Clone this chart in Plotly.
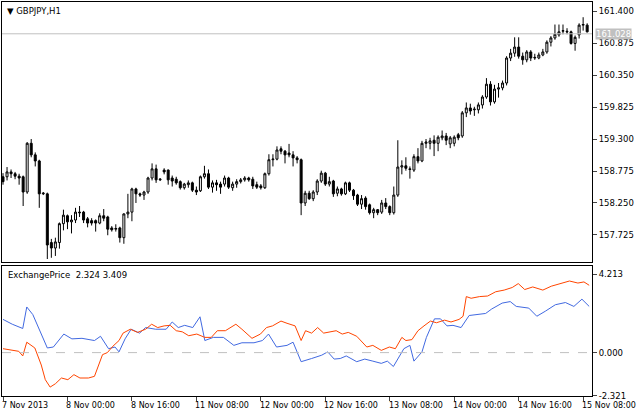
import plotly.graph_objects as go

opens = [158.68,158.68,158.76,158.73,158.69,158.68,158.43,159.23,159.04,158.94,158.40,158.40,157.60,157.51,157.60,157.91,158.04,157.94,157.97,158.10,
158.10,157.99,157.96,157.96,157.92,158.04,158.02,157.84,157.82,157.84,157.68,158.07,158.10,158.48,158.40,158.38,158.43,158.66,158.81,158.63,
158.79,158.79,158.66,158.64,158.60,158.50,158.55,158.58,158.46,158.45,158.68,158.73,158.51,158.58,158.56,158.56,158.66,158.50,158.56,158.60,
158.63,158.66,158.64,158.55,158.53,158.50,158.73,158.96,158.97,159.14,159.10,159.07,159.04,158.99,158.96,158.25,158.41,158.32,158.43,158.61,
158.74,158.56,158.61,158.41,158.48,158.40,158.58,158.46,158.38,158.23,158.33,158.22,158.09,158.14,158.10,158.25,158.19,158.09,158.38,158.84,
158.86,158.81,158.79,159.01,158.94,159.23,159.23,159.28,159.23,159.32,159.35,159.22,159.23,159.37,159.35,159.73,159.81,159.78,159.78,159.86,
159.99,160.20,159.91,160.12,160.14,160.22,160.63,160.71,160.81,160.66,160.60,160.73,160.63,160.63,160.68,160.73,160.89,160.96,161.01,161.07,
161.07,161.06,160.87,161.01,161.17,161.17]
closes = [158.60,158.76,158.73,158.69,158.66,158.43,159.23,159.04,158.94,158.40,158.41,157.56,157.51,157.61,157.91,158.05,157.94,157.97,158.10,158.09,
157.97,157.92,157.92,157.92,158.04,158.00,157.82,157.81,157.83,157.68,158.07,158.10,158.48,158.40,158.38,158.43,158.66,158.81,158.63,158.64,
158.76,158.63,158.61,158.58,158.50,158.56,158.58,158.46,158.43,158.68,158.73,158.51,158.58,158.55,158.51,158.66,158.51,158.56,158.60,158.63,
158.66,158.63,158.53,158.51,158.50,158.73,158.96,158.97,159.12,159.10,159.04,159.04,158.99,158.96,158.25,158.41,158.32,158.43,158.61,158.74,
158.56,158.60,158.40,158.48,158.40,158.58,158.46,158.37,158.23,158.32,158.19,158.09,158.14,158.09,158.25,158.19,158.09,158.38,158.84,158.86,
158.82,158.80,159.01,158.94,159.23,159.25,159.27,159.23,159.33,159.35,159.28,159.32,159.33,159.32,159.73,159.81,159.76,159.79,159.86,159.99,
160.20,159.91,160.12,160.14,160.22,160.63,160.71,160.81,160.66,160.60,160.73,160.63,160.64,160.68,160.73,160.89,160.96,161.02,161.06,161.08,
161.06,160.87,160.97,161.17,161.18,161.06]
highs = [158.74,158.84,158.80,158.76,158.73,158.70,159.25,159.30,159.08,158.96,158.43,158.42,157.66,157.68,157.93,158.14,158.06,158.05,158.17,158.20,
158.12,158.02,158.00,157.98,158.08,158.15,158.04,157.87,157.90,157.86,158.08,158.40,158.50,158.50,158.42,158.45,158.68,158.90,158.88,158.66,
158.82,158.80,158.70,158.68,158.62,158.58,158.62,158.60,158.52,158.70,158.86,158.80,158.62,158.63,158.60,158.70,158.68,158.60,158.64,158.66,
158.69,158.68,158.68,158.60,158.56,158.75,159.05,159.05,159.18,159.18,159.12,159.22,159.10,159.02,158.98,158.45,158.45,158.46,158.64,158.78,
158.76,158.68,158.63,158.52,158.50,158.60,158.60,158.48,158.40,158.38,158.36,158.24,158.17,158.15,158.30,158.33,158.21,158.52,159.28,158.95,
159.00,158.85,159.05,159.15,159.27,159.30,159.32,159.36,159.36,159.44,159.40,159.35,159.36,159.40,159.76,159.90,159.88,159.83,159.90,160.02,
160.30,160.25,160.19,160.22,160.26,160.66,160.78,160.97,160.97,160.72,160.76,160.76,160.70,160.72,160.78,160.92,160.99,161.18,161.18,161.18,
161.12,161.08,161.00,161.20,161.30,161.20]
lows = [158.55,158.62,158.66,158.64,158.55,158.20,158.40,159.00,158.85,158.17,158.38,157.33,157.35,157.38,157.50,157.80,157.82,157.75,157.92,158.02,
157.92,157.85,157.88,157.78,157.90,157.95,157.72,157.78,157.78,157.60,157.58,158.00,157.95,158.25,158.35,158.30,158.40,158.62,158.58,158.61,
158.72,158.55,158.52,158.55,158.47,158.47,158.50,158.43,158.38,158.43,158.65,158.48,158.42,158.45,158.40,158.52,158.48,158.45,158.50,158.57,
158.60,158.60,158.48,158.48,158.47,158.48,158.70,158.85,158.95,159.05,158.90,159.00,158.85,158.90,158.05,158.20,158.30,158.28,158.38,158.58,
158.53,158.52,158.35,158.36,158.37,158.38,158.43,158.30,158.20,158.15,158.14,158.06,158.00,158.05,158.07,158.15,158.05,158.06,158.35,158.72,
158.78,158.65,158.76,158.90,158.92,159.15,159.13,159.02,159.10,159.28,159.20,159.15,159.18,159.28,159.32,159.66,159.70,159.68,159.72,159.80,
159.96,159.85,159.88,159.98,160.10,160.18,160.58,160.65,160.62,160.52,160.56,160.58,160.60,160.61,160.66,160.70,160.82,160.93,160.98,161.02,
161.02,160.85,160.75,160.95,161.08,161.05]

red_x = [0,2.3,3.9,4.9,5.9,7.9,9.5,10.5,11.7,13.0,14.5,16.1,17.6,19.1,21.2,22.7,23.7,24.7,25.9,27.3,28.8,29.8,31.6,33.4,35.4,36.9,38.4,40.0,41.5,43.0,
44.5,46.1,48.1,50.1,51.7,53.2,55.2,57.8,59.3,61.8,63.9,65.4,66.9,69.0,70.5,72.5,74.0,75.1,76.6,78.1,79.6,82.7,84.2,85.7,87.8,88.8,90.3,91.8,93.9,95.9,
97.4,99.0,100.0,101.5,103.0,104.5,106.1,107.6,109.6,111.2,113.2,114.2,115.0,116.2,118.3,120.3,122.3,124.4,126.4,127.9,129.5,131.5,134.0,136.1,138.6,140.6,142.7,144.2,145.5]
red_v = [0.21,0.12,0.07,-0.18,0.56,0.25,-0.67,-1.46,-1.86,-1.68,-1.37,-1.46,-1.19,-1.37,-1.37,-1.28,-0.67,-0.11,0.0,0.35,0.65,1.05,1.26,1.09,1.26,1.53,1.35,1.44,1.47,1.18,
1.12,0.91,1.00,0.82,0.82,1.18,1.18,1.53,1.26,0.77,1.00,1.35,1.44,1.70,1.58,1.44,0.65,1.18,1.05,1.35,1.05,1.18,1.00,1.09,0.88,0.65,0.30,0.39,0.12,0.30,
0.21,0.82,0.65,0.70,1.18,1.44,1.70,1.61,1.75,1.65,1.79,1.96,3.02,2.93,3.02,3.05,3.28,3.37,3.51,3.72,3.40,3.54,3.37,3.58,3.72,3.86,3.75,3.81,3.63]
blue_x = [0,2.3,4.9,5.9,7.4,9.5,11.0,12.5,15.1,17.1,19.6,22.7,24.2,26.2,27.8,28.8,30.3,31.8,33.9,35.4,37.9,40.5,42.0,43.5,45.1,47.1,48.9,50.1,52.2,54.7,
57.3,59.3,62.3,64.4,65.9,67.9,70.5,72.0,74.0,76.6,79.1,80.6,82.2,83.7,85.2,87.8,89.8,91.8,93.9,95.4,96.9,99.5,101.0,102.0,104.0,105.1,107.1,108.6,110.2,111.7,
113.7,115.7,119.8,121.3,123.9,125.9,127.4,130.5,132.5,134.6,137.1,139.6,141.7,143.7,145.5]
blue_v = [1.79,1.53,1.30,2.46,2.05,1.05,0.25,0.30,1.00,0.74,0.77,0.65,0.88,0.21,0.30,0.04,0.74,1.26,1.05,1.35,1.26,1.26,1.65,1.35,1.47,1.35,1.93,0.65,0.82,0.82,
0.39,0.53,0.53,0.65,1.00,0.30,0.39,0.56,-0.49,-0.32,-0.14,0.04,-0.35,-0.32,-0.18,-0.49,-0.35,-0.46,-0.58,-0.46,-0.75,0.21,0.39,-0.46,0.04,0.82,1.82,1.82,1.44,1.47,
1.35,2.00,2.11,2.35,2.67,2.75,2.49,2.40,1.96,2.23,2.58,2.70,2.49,2.88,2.49]

tick_pos = [0,16,32,48,64,80,96,112,128,144]
tick_labels = ["7 Nov 2013","8 Nov 00:00","8 Nov 16:00","11 Nov 08:00","12 Nov 00:00","12 Nov 16:00",
               "13 Nov 08:00","14 Nov 00:00","14 Nov 16:00","15 Nov 08:00"]
price_ticks = [161.400,160.875,160.350,159.825,159.300,158.775,158.250,157.725]
ind_ticks = [4.213,0.0,-2.321]
last_price = 161.028

FONT = "DejaVu Sans"
FS = 8.5
bars = list(range(len(opens)))
fig = go.Figure()
fig.add_trace(go.Candlestick(x=bars, open=opens, high=highs, low=lows, close=closes,
    increasing=dict(line=dict(color="black", width=1), fillcolor="white"),
    decreasing=dict(line=dict(color="black", width=1), fillcolor="black"),
    whiskerwidth=0, xaxis="x", yaxis="y", showlegend=False))
fig.add_trace(go.Scatter(x=blue_x, y=blue_v, mode="lines", line=dict(color="#4169E1", width=1),
                         xaxis="x2", yaxis="y2", showlegend=False))
fig.add_trace(go.Scatter(x=red_x, y=red_v, mode="lines", line=dict(color="#FF4500", width=1),
                         xaxis="x2", yaxis="y2", showlegend=False))

xr = [-0.25, 146.2]
ax_common = dict(showgrid=False, zeroline=False, showline=True, linecolor="black", mirror=True, linewidth=1)
fig.update_layout(
    width=638, height=415, margin=dict(l=2, r=46, t=2, b=19),
    paper_bgcolor="white", plot_bgcolor="white",
    font=dict(family=FONT, size=FS, color="black"),
    xaxis=dict(domain=[0,1], range=xr, anchor="y", showticklabels=False, ticks="",
               rangeslider=dict(visible=False), **ax_common),
    yaxis=dict(domain=[0.340,1], range=[157.28,161.55], side="right", tickvals=price_ticks,
               ticktext=[f"{v:.3f}" for v in price_ticks], ticks="outside", ticklen=4, anchor="x", **ax_common),
    xaxis2=dict(domain=[0,1], range=xr, anchor="y2", tickvals=tick_pos, ticktext=[""]*len(tick_pos),
                ticks="outside", ticklen=4, **ax_common),
    yaxis2=dict(domain=[0,0.330], range=[-2.34,4.67], side="right", tickvals=ind_ticks,
                ticktext=[f"{v:.3f}" for v in ind_ticks], ticks="outside", ticklen=4, anchor="x2", **ax_common),
)
for p, t in zip(tick_pos, tick_labels):
    fig.add_annotation(x=p, y=0, xref="x2", yref="paper", text=t, showarrow=False,
                       xanchor="left", yanchor="top", yshift=-3, xshift=-3, font=dict(size=8))
fig.add_shape(type="line", xref="x domain", yref="y", x0=0, x1=1, y0=last_price, y1=last_price,
              line=dict(color="#C0C0C0", width=1))
fig.add_annotation(x=1, xref="paper", y=last_price, yref="y", text=f"{last_price:.3f}", showarrow=False,
                   xanchor="left", xshift=3, bgcolor="#C0C0C0", font=dict(color="white", size=FS), borderpad=0)
fig.add_shape(type="line", xref="x2 domain", yref="y2", x0=0, x1=1, y0=0, y1=0,
              line=dict(color="#C0C0C0", width=1, dash="dash"))
fig.add_annotation(x=0, xref="paper", y=1, yref="paper", text="▼ GBPJPY,H1", showarrow=False,
                   xanchor="left", yanchor="top", xshift=3, yshift=-2, font=dict(size=FS))
fig.add_annotation(x=0, xref="paper", y=0.330, yref="paper", text="ExchangePrice  2.324 3.409", showarrow=False,
                   xanchor="left", yanchor="top", xshift=4, yshift=-2, font=dict(size=FS))
fig.write_html("out.html", config={"displayModeBar": False},
               post_script="document.body.style.margin='0';document.body.style.overflow='hidden';")
